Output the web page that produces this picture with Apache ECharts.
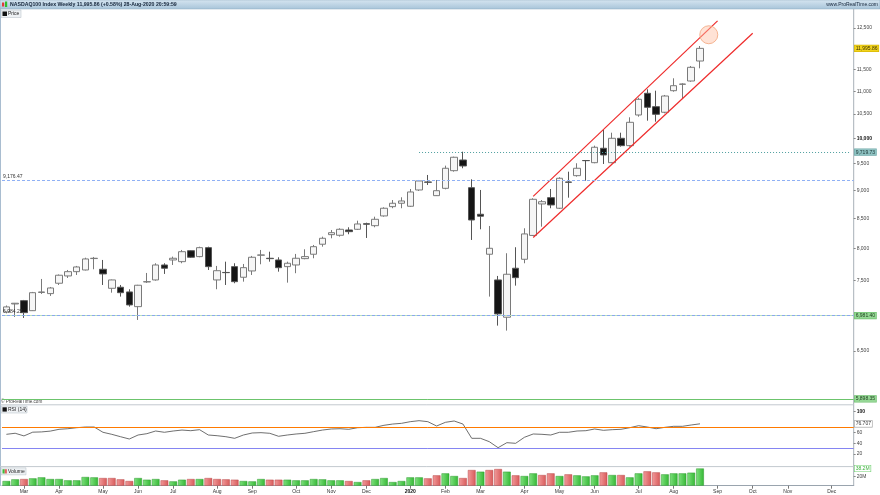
<!DOCTYPE html>
<html><head><meta charset="utf-8">
<script src="https://cdn.jsdelivr.net/npm/echarts@6/dist/echarts.min.js"></script>
<style>html,body{margin:0;padding:0;background:#fff}#c{width:880px;height:495px}</style>
</head><body><div id="c"></div>
<script>
// ---------- DATA ----------
const startDate = '2019-02-18';   // first weekly bar (Monday)
const weekCount = 97;             // weeks shown on the axis (to Dec 2020)
const opens  = [7033,7148,7196,7051,7316,7299,7454,7565,7631,7657,7836,7668,7378,7394,7324,7109,7474,7504,7735,7814,7787,7962,7867,8011,7504,7619,7709,7545,7642,7889,7841,7814,7709,7735,7835,7905,8067,8225,8215,8303,8315,8410,8376,8543,8705,8765,8712,9004,9151,8901,9034,9363,9568,9046,8572,7905,7504,6958,7684,7825,8212,8753,8865,8677,9151,9269,9558,9516,9798,9516,9998,9850,10481,10952,10659,10539,11010,11153,11228,11692];
const closes = [7105,7158,7023,7313,7324,7383,7576,7631,7704,7830,7841,7596,7504,7313,7134,7424,7478,7735,7684,7841,7946,7857,8011,7709,7646,7616,7478,7693,7857,7894,7835,7693,7762,7841,7867,8027,8165,8258,8315,8275,8405,8400,8485,8677,8765,8806,8968,9170,9146,8991,9409,9621,9453,8473,8538,8001,7005,7591,7539,8237,8836,8793,8735,9220,9146,9409,9555,9818,9666,9998,9850,10327,10820,10646,10496,10892,11122,11160,11544,11995.86];
const lows   = [7019,6962,6948,7047,7294,7265,7428,7534,7580,7650,7668,7428,7313,7255,7109,6920,7459,7493,7596,7735,7762,7846,7857,7657,7364,7428,7454,7478,7580,7746,7787,7631,7463,7607,7825,7841,8027,8165,8192,8232,8303,8170,8349,8530,8677,8677,8700,8986,9096,8895,9016,9344,9409,8137,8315,7255,6841,6772,7418,7762,8203,8359,8677,8664,8865,9250,9175,9505,9491,9505,9830,9830,10445,10361,10340,10517,10987,10826,11212,11521];
const highs  = [7126,7162,7206,7324,7519,7398,7588,7657,7720,7850,7862,7814,7510,7428,7364,7430,7611,7762,7762,7867,7974,7969,8027,8027,7720,7787,7762,7751,7878,7974,7946,7857,7787,7910,7985,8055,8192,8303,8332,8349,8461,8427,8530,8694,8823,8872,9022,9188,9282,9188,9459,9633,9730,9201,9004,8371,7565,7921,8018,8332,8854,8823,9022,9239,9344,9505,9568,9850,10167,10112,10112,10432,10855,11041,11010,10915,11290,11176,11575,12053];
const rsi14  = [57,59,54,61,61.5,63,66.4,67.5,69.4,70.7,70.7,60.8,57,52.5,48.2,55.7,58.2,63.2,60.8,63.2,65,63.8,65.7,55.7,54.4,52.5,49.5,55.7,59.5,60.1,58.9,53.3,55.7,57.6,58.9,62,65,67,67.5,66.4,69.4,70.1,70.1,73.9,76.3,77.6,80.7,82.6,80.7,72.6,79.5,82,76.3,49.5,49.5,43.2,31.9,41.3,40.1,51.4,57.6,57,55.7,60.8,60.8,63.2,63.8,67,64.5,65.7,66.4,69.4,73.2,70.7,67.5,70.1,72,72,74.5,76.707];
const volumeM = [10.4,14.1,14.8,16.3,18.5,14.8,14.8,11.9,11.9,19.3,18.5,17,17,14.1,10.4,17,13.3,14.8,11.9,9.6,13.3,14.8,14.8,17,14.8,14.1,13.3,10.4,9.6,14.8,13.3,13.3,13.3,11.9,11.9,14.8,14.1,11.9,11.9,10.4,8.1,11.9,14.8,17,8.1,10.4,18.5,18.5,16.3,23,27.4,21.5,17,34.8,31.1,34.8,37,31.1,23,21.5,27.4,23.7,27.4,21.5,25.2,23,20.7,23,29.6,23.7,23.7,18.5,27.4,31.9,29.6,25.2,27.4,27.4,28.9,38.2];
const priceTicks  = [6500,7500,8000,8500,9000,9500,10000,10500,11000,11500,12500];
const rsiTicks    = [20,40,60,100];
const volumeTicks = [20];
const priceAxisMin = 5896, priceAxisMax = 12965;
const levelLow = 5898.35, levelSupport = 6981.40, levelSupportLeft = 6984.25;
const level9176 = 9176.47, level9719 = 9719.73, level9719StartWeek = 47;
const lastClose = 11995.86, lastRsi = 76.707, lastVolM = 38.2;
const rsiOverbought = 70, rsiOversold = 30, volumeAxisMax = 42.2;
const channelUpper = [[60, 8888], [81, 12681]];
const channelLower = [[60, 8178], [85, 12369]];
const highlightPoint = [80, 12331];
const monthNames = ['Jan','Feb','Mar','Apr','May','Jun','Jul','Aug','Sep','Oct','Nov','Dec'];

// ---------- BUILD ----------
const dates = [];
(function(){ const t0 = Date.parse(startDate + 'T00:00:00Z');
  for (let i = 0; i < weekCount; i++) dates.push(new Date(t0 + i * 7 * 864e5).toISOString().slice(0, 10)); })();
const isMonthStart = i => i > 0 && dates[i].slice(5, 7) !== dates[i - 1].slice(5, 7);
const lg = v => Math.log10(v);
const fmt2 = v => v.toLocaleString('en-US', {minimumFractionDigits: 2, maximumFractionDigits: 2});
const FONT = 'Liberation Sans';
const FS = 5;
const gridW = 851.66;

const candles = opens.map((o, i) => [lg(o), lg(closes[i]), lg(lows[i]), lg(highs[i])]);
const volData = volumeM.map((v, i) => {
  const up = i === 0 || closes[i] >= closes[i - 1];
  return {value: v, itemStyle: {
    color: up ? new echarts.graphic.LinearGradient(0,0,1,0,[{offset:0,color:'#7fe07f'},{offset:1,color:'#34b834'}])
              : new echarts.graphic.LinearGradient(0,0,1,0,[{offset:0,color:'#f19a9a'},{offset:1,color:'#d85a5a'}]),
    borderColor: up ? '#2f9a2f' : '#b84848', borderWidth: 0.5}};
});

const boxLabel = (text, bg, color, border) => ({
  show: true, position: 'end', distance: 1, formatter: text, fontSize: FS, fontFamily: FONT,
  color: color, backgroundColor: bg, borderColor: border || bg, borderWidth: 0.6,
  padding: [1, 1, 0, 1], lineHeight: 5
});
const hidden = () => ({color: 'rgba(0,0,0,0)', width: 0});

const xAxes = [0, 1, 2].map(g => ({
  type: 'category', gridIndex: g, data: dates, boundaryGap: true,
  axisLine: {show: g === 2, onZero: false, lineStyle: {color: '#9aa4ae', width: 1}},
  axisTick: {show: g === 2, interval: (i) => isMonthStart(i), alignWithLabel: true, length: 3, lineStyle: {color: '#777'}},
  axisLabel: {show: g === 2, interval: (i) => isMonthStart(i), margin: 3, fontSize: FS, fontFamily: FONT, color: '#333',
    formatter: (v) => { const m = +v.slice(5, 7); return m === 1 ? '{b|' + v.slice(0, 4) + '}' : monthNames[m - 1]; },
    rich: {b: {fontWeight: 'bold', fontSize: FS, fontFamily: FONT, color: '#111'}}},
  splitLine: {show: false}
}));

const yLabelBase = {margin: 3, fontSize: FS, fontFamily: FONT, color: '#444'};
const option = {
  animation: false,
  backgroundColor: '#fff',
  grid: [
    {left: 2, top: 10, width: gridW, height: 389.0, outerBoundsMode: 'none'},
    {left: 2, top: 411.4, width: gridW, height: 53.3, outerBoundsMode: 'none'},
    {left: 2, top: 466.7, width: gridW, height: 19, outerBoundsMode: 'none'}
  ],
  xAxis: xAxes,
  yAxis: [
    {type: 'value', gridIndex: 0, position: 'right', min: lg(priceAxisMin), max: lg(priceAxisMax),
     axisLine: {show: false}, splitLine: {show: false},
     axisTick: {show: true, customValues: priceTicks.map(lg), length: 2, lineStyle: {color: '#888'}},
     axisLabel: Object.assign({}, yLabelBase, {customValues: priceTicks.map(lg),
       formatter: (v) => { const n = Math.round(Math.pow(10, v)); const s = n.toLocaleString('en-US'); return n === 10000 ? '{b|' + s + '}' : s; },
       rich: {b: {fontWeight: 'bold', fontSize: FS, fontFamily: FONT, color: '#111'}}})},
    {type: 'value', gridIndex: 1, position: 'right', min: 0, max: 100,
     axisLine: {show: false}, splitLine: {show: false},
     axisTick: {show: true, customValues: rsiTicks, length: 2, lineStyle: {color: '#888'}},
     axisLabel: Object.assign({}, yLabelBase, {customValues: rsiTicks,
       formatter: (v) => v === 100 ? '{b|100}' : String(v),
       rich: {b: {fontWeight: 'bold', fontSize: FS, fontFamily: FONT, color: '#111'}}})},
    {type: 'value', gridIndex: 2, position: 'right', min: 0, max: volumeAxisMax,
     axisLine: {show: false}, splitLine: {show: false},
     axisTick: {show: true, customValues: volumeTicks, length: 2, lineStyle: {color: '#888'}},
     axisLabel: Object.assign({}, yLabelBase, {customValues: volumeTicks, formatter: (v) => v + 'M'})}
  ],
  series: [
    {type: 'candlestick', name: 'Price', xAxisIndex: 0, yAxisIndex: 0, data: candles, barWidth: 7,
     itemStyle: {color: '#f6f6f6', color0: '#151515', borderColor: '#7a7a7a', borderColor0: '#555', borderWidth: 1},
     markLine: {silent: true, symbol: ['none', 'none'], animation: false, precision: 10, data: [
       {yAxis: lg(levelLow), lineStyle: {color: '#6cc46c', width: 1, type: 'solid'}, label: boxLabel(fmt2(levelLow), '#95d895', '#1d3d1d', '#6cbf6c')},
       {yAxis: lg(levelSupport), lineStyle: {color: '#b8e2b8', width: 1, type: 'solid'}, label: boxLabel(fmt2(levelSupport), '#95d895', '#1d3d1d', '#6cbf6c')},
       {yAxis: lg(levelSupportLeft), lineStyle: {color: '#8aa9ee', width: 1, type: [3, 2]},
        label: {show: true, position: 'insideStartTop', distance: 1, formatter: fmt2(levelSupportLeft), fontSize: FS, fontFamily: FONT, color: '#333'}},
       {yAxis: lg(level9176), lineStyle: {color: '#8fb0f5', width: 1, type: [3, 2]},
        label: {show: true, position: 'insideStartTop', distance: 1, formatter: fmt2(level9176), fontSize: FS, fontFamily: FONT, color: '#333'}},
       [{coord: [level9719StartWeek, lg(level9719)], lineStyle: {color: '#4f9f9f', width: 1, type: [1, 2]}, label: {show: false}},
        {coord: [weekCount - 1, lg(level9719)]}],
       {yAxis: lg(level9719), lineStyle: hidden(), label: boxLabel(fmt2(level9719), '#8ec3c3', '#1d3535', '#6fa8a8')},
       {yAxis: lg(lastClose), lineStyle: hidden(), label: boxLabel(fmt2(lastClose), '#f2d41e', '#3a3000', '#d4b400')}
     ]}},
    {type: 'line', xAxisIndex: 0, yAxisIndex: 0, data: channelUpper.map(p => [p[0], lg(p[1])]), symbol: 'none',
     lineStyle: {color: '#ee2b2b', width: 1.2}, silent: true, z: 3},
    {type: 'line', xAxisIndex: 0, yAxisIndex: 0, data: channelLower.map(p => [p[0], lg(p[1])]), symbol: 'none',
     lineStyle: {color: '#ee2b2b', width: 1.2}, silent: true, z: 3},
    {type: 'scatter', xAxisIndex: 0, yAxisIndex: 0, data: [[highlightPoint[0], lg(highlightPoint[1])]], symbolSize: 18,
     itemStyle: {color: 'rgba(255,190,160,0.55)', borderColor: '#f3a47a', borderWidth: 1}, silent: true, z: 4},
    {type: 'line', name: 'RSI (14)', xAxisIndex: 1, yAxisIndex: 1, data: rsi14, symbol: 'none',
     lineStyle: {color: '#4a4a4a', width: 0.8}, silent: true, z: 3,
     markLine: {silent: true, symbol: ['none', 'none'], animation: false, precision: 10, data: [
       {yAxis: rsiOverbought, lineStyle: {color: '#ff7a00', width: 1, type: 'solid'}, label: {show: false}},
       {yAxis: rsiOversold, lineStyle: {color: '#8585f2', width: 1, type: 'solid'}, label: {show: false}},
       {yAxis: lastRsi, lineStyle: hidden(), label: boxLabel(String(lastRsi), '#ffffff', '#333', '#9a9a9a')}
     ]}},
    {type: 'bar', name: 'Volume', xAxisIndex: 2, yAxisIndex: 2, data: volData, barWidth: '88%', silent: true,
     markLine: {silent: true, symbol: ['none', 'none'], animation: false, precision: 10, data: [
       {yAxis: lastVolM, lineStyle: hidden(), label: boxLabel(lastVolM + 'M', '#ffffff', '#39b039', '#6ccf6c')}
     ]}}
  ],
  graphic: [
    {type: 'rect', shape: {x: 0, y: 0, width: 880, height: 9}, style: {fill: new echarts.graphic.LinearGradient(0,0,0,1,[{offset:0,color:'#d6e5f0'},{offset:1,color:'#a7c4d9'}]), stroke: '#8fa9bd', lineWidth: 0.5}, silent: true},
    {type: 'rect', shape: {x: 2, y: 2.5, width: 2.2, height: 4}, style: {fill: '#e03a3a'}, silent: true},
    {type: 'rect', shape: {x: 5, y: 1.5, width: 2.2, height: 5.5}, style: {fill: '#2fbf2f'}, silent: true},
    {type: 'text', x: 10, y: 4.8, style: {text: 'NASDAQ100 Index Weekly 11,995.86 (+0.58%) 28-Aug-2020 20:59:59', fontSize: 5.2, fontWeight: 'bold', fontFamily: FONT, fill: '#15253a', verticalAlign: 'middle'}, silent: true},
    {type: 'text', x: 878, y: 4.8, style: {text: 'www.ProRealTime.com', fontSize: 5, fontFamily: FONT, fill: '#15253a', align: 'right', verticalAlign: 'middle'}, silent: true},
    {type: 'line', shape: {x1: 0.5, y1: 9, x2: 0.5, y2: 486}, style: {stroke: '#a9bdd0', lineWidth: 1}, silent: true},
    {type: 'line', shape: {x1: 853.7, y1: 9, x2: 853.7, y2: 486}, style: {stroke: '#a8b0b8', lineWidth: 1}, silent: true},
    {type: 'rect', shape: {x: 1, y: 10, width: 20, height: 7.5}, style: {fill: '#eef1f4', stroke: '#b3bcc5', lineWidth: 0.5}, silent: true},
    {type: 'rect', shape: {x: 2.5, y: 11.5, width: 4.5, height: 4.5}, style: {fill: '#111'}, silent: true},
    {type: 'text', x: 8, y: 14, style: {text: 'Price', fontSize: 5, fontFamily: FONT, fill: '#222', verticalAlign: 'middle'}, silent: true},
    {type: 'text', x: 1, y: 401.7, style: {text: '\u00A9 ProRealTime.com', fontSize: 4.6, fontFamily: FONT, fill: '#444', verticalAlign: 'middle'}, silent: true},
    {type: 'line', shape: {x1: 0, y1: 404.8, x2: 853.7, y2: 404.8}, style: {stroke: '#c3c9cf', lineWidth: 1}, silent: true},
    {type: 'rect', shape: {x: 1, y: 406, width: 26, height: 7}, style: {fill: '#eef1f4', stroke: '#b3bcc5', lineWidth: 0.5}, silent: true},
    {type: 'rect', shape: {x: 2.5, y: 407.3, width: 4.3, height: 4.3}, style: {fill: '#111'}, silent: true},
    {type: 'text', x: 8, y: 409.6, style: {text: 'RSI (14)', fontSize: 5, fontFamily: FONT, fill: '#222', verticalAlign: 'middle'}, silent: true},
    {type: 'line', shape: {x1: 0, y1: 466.6, x2: 853.7, y2: 466.6}, style: {stroke: '#c3c9cf', lineWidth: 1}, silent: true},
    {type: 'rect', shape: {x: 1, y: 467.8, width: 25, height: 7}, style: {fill: '#eef1f4', stroke: '#b3bcc5', lineWidth: 0.5}, silent: true},
    {type: 'rect', shape: {x: 2.5, y: 469.2, width: 2.2, height: 4.3}, style: {fill: '#3cc03c'}, silent: true},
    {type: 'rect', shape: {x: 4.7, y: 469.2, width: 2.2, height: 4.3}, style: {fill: '#e06262'}, silent: true},
    {type: 'text', x: 8, y: 471.4, style: {text: 'Volume', fontSize: 5, fontFamily: FONT, fill: '#222', verticalAlign: 'middle'}, silent: true}
  ]
};
const chart = echarts.init(document.getElementById('c'));
chart.setOption(option);
</script></body></html>
